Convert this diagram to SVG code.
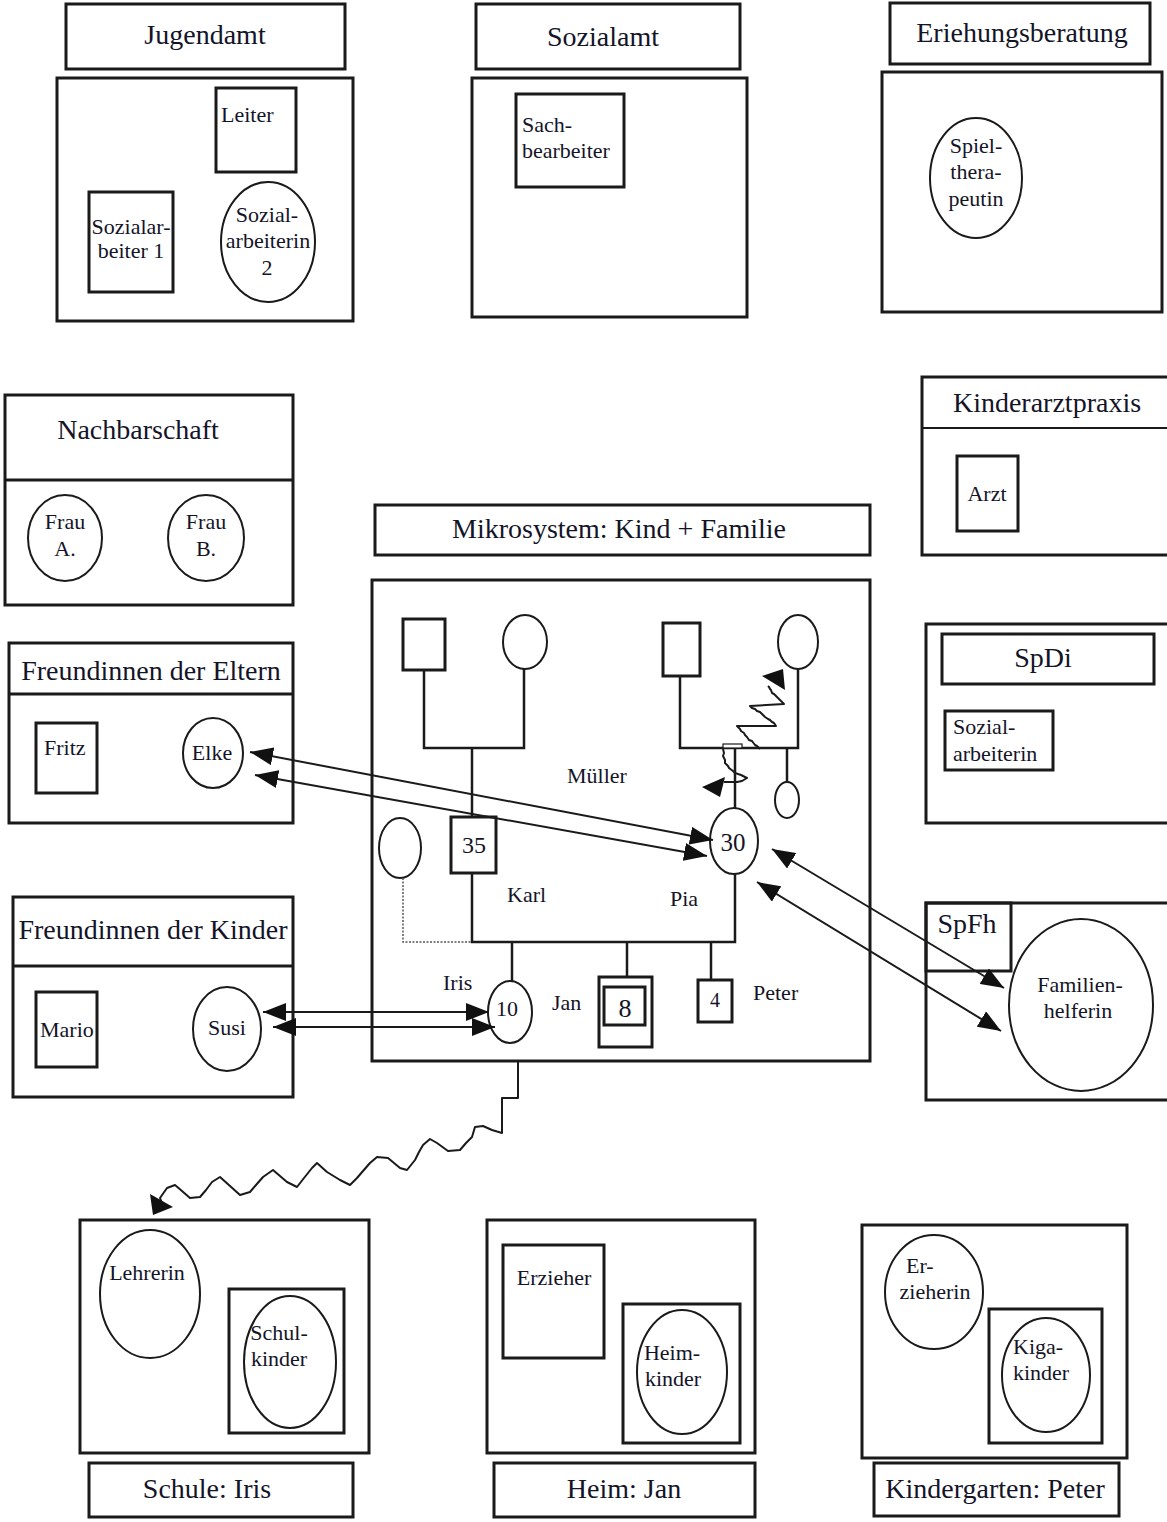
<svg xmlns="http://www.w3.org/2000/svg" width="1167" height="1522" viewBox="0 0 1167 1522">
<style>
text{font-family:"Liberation Serif","DejaVu Serif",serif;fill:#141428}
.h{font-size:28px;text-anchor:middle}
.l{font-size:22px}
.c{text-anchor:middle}
.box{fill:none;stroke:#1a1a1a;stroke-width:3}
.in{fill:none;stroke:#1a1a1a;stroke-width:3}
.el{fill:none;stroke:#1a1a1a;stroke-width:2}
.g{fill:none;stroke:#1a1a1a;stroke-width:2.5}
.ar{fill:none;stroke:#1a1a1a;stroke-width:2}
.wv{fill:none;stroke:#1a1a1a;stroke-width:2;stroke-linejoin:round}
.hd{fill:#111;stroke:none}
</style>
<defs>
<marker id="ah" viewBox="0 0 23 18" refX="23" refY="9" markerWidth="23" markerHeight="18" markerUnits="userSpaceOnUse" orient="auto-start-reverse">
<path d="M0,0 L23,9 L0,18 z" fill="#111"/>
</marker>
</defs>
<rect width="1167" height="1522" fill="#fff"/>

<g id="jugendamt">
<rect class="box" x="66" y="4" width="279" height="65"/>
<text class="h" x="205" y="44">Jugendamt</text>
<rect class="box" x="57" y="78" width="296" height="243"/>
<rect class="in" x="216" y="88" width="80" height="84"/>
<text class="l" x="221" y="122">Leiter</text>
<rect class="in" x="89" y="192" width="84" height="100"/>
<text class="l c" x="131" y="234">Sozialar-</text>
<text class="l c" x="131" y="258">beiter 1</text>
<ellipse class="el" cx="268" cy="242" rx="47" ry="60"/>
<text class="l c" x="267" y="222">Sozial-</text>
<text class="l c" x="268" y="248">arbeiterin</text>
<text class="l c" x="267" y="275">2</text>
</g>

<g id="sozialamt">
<rect class="box" x="476" y="4" width="264" height="65"/>
<text class="h" x="603" y="46">Sozialamt</text>
<rect class="box" x="472" y="78" width="275" height="239"/>
<rect class="in" x="516" y="94" width="108" height="93"/>
<text class="l" x="522" y="132">Sach-</text>
<text class="l" x="522" y="158">bearbeiter</text>
</g>

<g id="erziehungsberatung">
<rect class="box" x="890" y="3" width="260" height="61"/>
<text class="h" x="1022" y="42">Eriehungsberatung</text>
<rect class="box" x="882" y="72" width="280" height="240"/>
<ellipse class="el" cx="976" cy="178" rx="46" ry="60"/>
<text class="l c" x="976" y="153">Spiel-</text>
<text class="l c" x="976" y="179">thera-</text>
<text class="l c" x="976" y="206">peutin</text>
</g>

<g id="nachbarschaft">
<rect class="box" x="5" y="395" width="288" height="210"/>
<line class="box" x1="5" y1="480" x2="293" y2="480"/>
<text class="h" x="138" y="439">Nachbarschaft</text>
<ellipse class="el" cx="65" cy="538" rx="37" ry="43"/>
<text class="l c" x="65" y="529">Frau</text>
<text class="l c" x="65" y="556">A.</text>
<ellipse class="el" cx="206" cy="538" rx="38" ry="43"/>
<text class="l c" x="206" y="529">Frau</text>
<text class="l c" x="206" y="556">B.</text>
</g>

<g id="freundinnen-eltern">
<rect class="box" x="9" y="643" width="284" height="180"/>
<line class="box" x1="9" y1="694" x2="293" y2="694"/>
<text class="h" x="151" y="680">Freundinnen der Eltern</text>
<rect class="in" x="36" y="723" width="61" height="70"/>
<text class="l" x="44" y="755">Fritz</text>
<ellipse class="el" cx="213" cy="753" rx="30" ry="35"/>
<text class="l c" x="212" y="760">Elke</text>
</g>

<g id="freundinnen-kinder">
<rect class="box" x="13" y="897" width="280" height="200"/>
<line class="box" x1="13" y1="966" x2="293" y2="966"/>
<text class="h" x="153" y="939">Freundinnen der Kinder</text>
<rect class="in" x="36" y="992" width="61" height="75"/>
<text class="l" x="40" y="1037">Mario</text>
<ellipse class="el" cx="227" cy="1029" rx="34" ry="42"/>
<text class="l c" x="227" y="1035">Susi</text>
</g>

<g id="kinderarztpraxis">
<rect class="box" x="922" y="377" width="250" height="178"/>
<line class="el" x1="922" y1="428" x2="1167" y2="428"/>
<text class="h" x="1047" y="412">Kinderarztpraxis</text>
<rect class="in" x="957" y="456" width="61" height="75"/>
<text class="l c" x="987" y="501">Arzt</text>
</g>

<g id="spdi">
<rect class="box" x="926" y="624" width="246" height="199"/>
<rect class="in" x="942" y="634" width="212" height="50"/>
<text class="h" x="1043" y="667">SpDi</text>
<rect class="in" x="945" y="711" width="108" height="59"/>
<text class="l" x="953" y="734">Sozial-</text>
<text class="l" x="953" y="761">arbeiterin</text>
</g>

<g id="spfh">
<rect class="box" x="926" y="903" width="246" height="197"/>
<rect class="in" x="926" y="903" width="85" height="68"/>
<text class="h" x="967" y="933">SpFh</text>
<ellipse class="el" cx="1081" cy="1005" rx="72" ry="86"/>
<text class="l c" x="1080" y="992">Familien-</text>
<text class="l c" x="1078" y="1018">helferin</text>
</g>

<g id="mikrosystem">
<rect class="box" x="375" y="505" width="495" height="50"/>
<text class="h" x="619" y="538">Mikrosystem: Kind + Familie</text>
<rect class="box" x="372" y="580" width="498" height="481"/>
<rect class="in" x="403" y="619" width="42" height="51"/>
<ellipse class="el" cx="525" cy="642" rx="22" ry="27"/>
<polyline class="g" points="424,670 424,748 524,748 524,669"/>
<line class="g" x1="472" y1="748" x2="472" y2="817"/>
<rect class="in" x="663" y="623" width="37" height="53"/>
<ellipse class="el" cx="798" cy="642" rx="20" ry="27"/>
<polyline class="g" points="680,676 680,748 798,748 798,669"/>
<line class="g" x1="735" y1="748" x2="735" y2="808"/>
<line class="g" x1="787" y1="748" x2="787" y2="782"/>
<ellipse class="el" cx="787" cy="800" rx="12" ry="18"/>
<rect class="in" x="451" y="817" width="45" height="56"/>
<text class="c" x="474" y="853" style="font-size:24px">35</text>
<ellipse class="el" cx="734" cy="841" rx="24" ry="33"/>
<text class="c" x="733" y="851" style="font-size:25px">30</text>
<ellipse class="el" cx="400" cy="848" rx="21" ry="30"/>
<polyline fill="none" stroke="#555" stroke-width="1.5" stroke-dasharray="2,1.5" points="403,878 403,942 472,942"/>
<polyline class="g" points="472,873 472,942 735,942 735,874"/>
<line class="g" x1="512" y1="942" x2="512" y2="982"/>
<line class="g" x1="627" y1="942" x2="627" y2="977"/>
<line class="g" x1="711" y1="942" x2="711" y2="980"/>
<ellipse class="el" cx="510" cy="1012" rx="22" ry="31"/>
<text class="c" x="507" y="1016" style="font-size:22px">10</text>
<rect class="in" x="599" y="977" width="53" height="70"/>
<rect class="in" x="604" y="987" width="41" height="38"/>
<text class="c" x="625" y="1017" style="font-size:26px">8</text>
<rect class="in" x="698" y="980" width="34" height="42"/>
<text class="c" x="715" y="1007" style="font-size:20px">4</text>
<text class="l c" x="597" y="783">Müller</text>
<text class="l" x="507" y="902">Karl</text>
<text class="l" x="670" y="906">Pia</text>
<text class="l" x="443" y="990">Iris</text>
<text class="l" x="552" y="1010">Jan</text>
<text class="l" x="753" y="1000">Peter</text>
</g>

<g id="schule">
<rect class="box" x="80" y="1220" width="289" height="233"/>
<ellipse class="el" cx="150" cy="1294" rx="50" ry="64"/>
<text class="l c" x="147" y="1280">Lehrerin</text>
<rect class="in" x="229" y="1289" width="115" height="144"/>
<ellipse class="el" cx="290" cy="1362" rx="46" ry="66"/>
<text class="l c" x="279" y="1340">Schul-</text>
<text class="l c" x="279" y="1366">kinder</text>
<rect class="box" x="89" y="1463" width="264" height="54"/>
<text class="h" x="207" y="1498">Schule: Iris</text>
</g>

<g id="heim">
<rect class="box" x="487" y="1220" width="268" height="233"/>
<rect class="in" x="503" y="1245" width="101" height="113"/>
<text class="l c" x="554" y="1285">Erzieher</text>
<rect class="in" x="623" y="1304" width="117" height="139"/>
<ellipse class="el" cx="682" cy="1372" rx="45" ry="62"/>
<text class="l c" x="672" y="1360">Heim-</text>
<text class="l c" x="673" y="1386">kinder</text>
<rect class="box" x="494" y="1463" width="261" height="54"/>
<text class="h" x="624" y="1498">Heim: Jan</text>
</g>

<g id="kindergarten">
<rect class="box" x="862" y="1225" width="265" height="233"/>
<ellipse class="el" cx="934" cy="1292" rx="49" ry="57"/>
<text class="l" x="906" y="1273">Er-</text>
<text class="l c" x="935" y="1299">zieherin</text>
<rect class="in" x="989" y="1309" width="113" height="134"/>
<ellipse class="el" cx="1046" cy="1375" rx="44" ry="57"/>
<text class="l" x="1013" y="1354">Kiga-</text>
<text class="l c" x="1041" y="1380">kinder</text>
<rect class="box" x="874" y="1463" width="245" height="53"/>
<text class="h" x="995" y="1498">Kindergarten: Peter</text>
</g>

<g id="connectors">
<line class="ar" x1="250" y1="752" x2="713" y2="840" marker-start="url(#ah)" marker-end="url(#ah)"/>
<line class="ar" x1="255" y1="775" x2="707" y2="856" marker-start="url(#ah)" marker-end="url(#ah)"/>
<line class="ar" x1="772" y1="849" x2="1004" y2="988" marker-start="url(#ah)" marker-end="url(#ah)"/>
<line class="ar" x1="757" y1="882" x2="1001" y2="1031" marker-start="url(#ah)" marker-end="url(#ah)"/>
<line class="ar" x1="263" y1="1012" x2="489" y2="1012" marker-start="url(#ah)" marker-end="url(#ah)"/>
<line class="ar" x1="273" y1="1027" x2="495" y2="1027" marker-start="url(#ah)" marker-end="url(#ah)"/>
<polyline class="wv" points="760,749 757,746 755,745 752,741 749,740 747,737 745,735 744,733 741,731 740,729 737,726 776,726 774,723 772,722 770,720 768,719 765,717 764,716 761,713 760,712 757,711 755,709 752,708 750,706 784,704 781,701 780,700 778,698 777,697 774,694 772,693 771,690 770,689 769,687 768,686"/>
<path class="hd" d="M762,676 L783,669 L785,690 z"/>
<rect x="723" y="744" width="19" height="4" fill="#fff" stroke="#1a1a1a" stroke-width="1.2"/>
<polyline class="wv" points="723,749 724,753 723,756 725,760 725,763 728,766 729,768 733,771 735,773 741,775 747,778 742,781 737,782 724,782"/>
<path class="hd" d="M702,787 L725,777 L720,797 z"/>
<polyline class="wv" points="518,1062 518,1098 502,1098 502,1133 492,1130 483,1126 475,1127 472,1137 466,1143 460,1150 448,1151 437,1143 430,1139 423,1145 419,1152 415,1160 407,1170 400,1168 394,1163 388,1158 377,1157 370,1163 363,1171 357,1178 350,1185 340,1180 327,1172 317,1163 312,1168 304,1178 297,1187 287,1182 280,1176 273,1170 263,1177 256,1185 250,1192 240,1195 230,1186 220,1177 212,1182 206,1190 200,1197 190,1198 182,1191 175,1185 167,1188 160,1198 162,1203"/>
<path class="hd" d="M150,1194 L173,1207 L153,1215 z"/>
</g>
</svg>
